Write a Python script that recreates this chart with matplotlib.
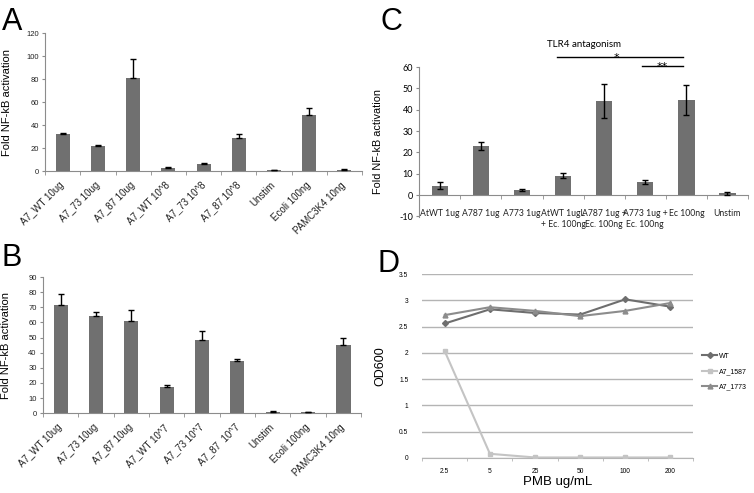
import numpy as np
import matplotlib
matplotlib.use("Agg")
import matplotlib.pyplot as plt
from matplotlib.ticker import FixedLocator, FormatStrFormatter

plt.rcParams['font.family'] = ['Liberation Sans', 'DejaVu Sans']
plt.rcParams['axes.unicode_minus'] = False

# panel A
labels_a = ["A7_WT 10ug", "A7_73 10ug", "A7_87 10ug", "A7_WT 10^8", "A7_73 10^8",
            "A7_87 10^8", "Unstim", "Ecoli 100ng", "PAMC3K4 10ng"]
vals_a = [32, 22, 80.5, 2.5, 6, 29, 0.7, 49, 1.2]
err_a = [1, 0.7, 17, 1, 1, 3.5, 0.2, 6, 0.3]

# panel B
labels_b = ["A7_WT 10ug", "A7_73 10ug", "A7_87 10ug", "A7_WT 10^7", "A7_73 10^7",
            "A7_87  10^7", "Unstim", "Ecoli 100ng", "PAMC3K4 10ng"]
vals_b = [71.5, 64.5, 61, 17, 48.5, 34.5, 1, 0.5, 45]
err_b = [7.5, 2.5, 7.5, 1.5, 5.5, 1.5, 0.3, 0.3, 4.5]

# panel C
labels_c = ["AtWT 1ug", "A787 1ug", "A773 1ug", "AtWT 1ugL\n+ Ec. 100ng",
            "A787 1ug +\nEc. 100ng", "A773 1ug +\nEc. 100ng", "Ec 100ng", "Unstim"]
vals_c = [4.5, 23, 2.5, 9.2, 44, 6, 44.5, 1]
err_c = [1.5, 2, 0.5, 1, 8, 1, 7, 0.7]

# panel D
pmb = ["2.5", "5", "25", "50", "100", "200"]
od_wt = [2.56, 2.83, 2.76, 2.73, 3.02, 2.88]
od_1587 = [2.03, 0.08, 0.01, 0.01, 0.01, 0.01]
od_1773 = [2.72, 2.87, 2.80, 2.70, 2.80, 2.95]

bar_col = "#707070"
spine_col = "#8c8c8c"

fig = plt.figure(figsize=(7.54, 4.93), dpi=100)


def excel_bars(ax, labels, vals, err, ylim, ystep):
    x = np.arange(len(vals))
    ax.bar(x, vals, width=0.4, color=bar_col, zorder=2)
    ax.errorbar(x, vals, yerr=[np.zeros(len(err)), err], fmt="none", ecolor="black",
                elinewidth=1, capsize=2.5, capthick=1, zorder=3)
    ax.set_xlim(-0.5, len(vals) - 0.5)
    ax.set_ylim(*ylim)
    ax.set_yticks(np.arange(ylim[0], ylim[1] + 0.1, ystep))
    ax.set_xticks(x)
    ax.set_xticklabels(labels, rotation=45, ha="right", va="center",
                       rotation_mode="anchor", fontsize=7, color="#222222")
    ax.xaxis.set_minor_locator(FixedLocator(np.arange(-0.5, len(vals), 1)))
    ax.tick_params(axis="x", which="major", length=0, pad=9)
    ax.tick_params(axis="x", which="minor", length=3, color=spine_col)
    ax.tick_params(axis="y", length=2.5, color=spine_col, labelsize=5.5,
                   labelcolor="#222222", pad=2)
    for s in ["top", "right"]:
        ax.spines[s].set_visible(False)
    for s in ["left", "bottom"]:
        ax.spines[s].set_color(spine_col)
    ax.set_ylabel("Fold NF-kB activation", fontsize=8)


axA = fig.add_axes([0.060, 0.653, 0.420, 0.280])
excel_bars(axA, labels_a, vals_a, err_a, (0, 120), 20)
axA.yaxis.set_label_coords(-0.105, 0.5)

axB = fig.add_axes([0.057, 0.162, 0.422, 0.276])
excel_bars(axB, labels_b, vals_b, err_b, (0, 90), 10)
axB.yaxis.set_label_coords(-0.10, 0.5)

# panel C
axC = fig.add_axes([0.556, 0.560, 0.436, 0.304])
xc = np.arange(len(vals_c))
axC.bar(xc, vals_c, width=0.4, color=bar_col, zorder=2)
axC.errorbar(xc, vals_c, yerr=err_c, fmt="none", ecolor="black",
             elinewidth=1, capsize=2.5, capthick=1, zorder=3)
axC.set_xlim(-0.5, len(vals_c) - 0.5)
axC.set_ylim(-10.2, 60)
axC.set_yticks(np.arange(-10, 61, 10))
axC.set_yticklabels([str(v) for v in range(-10, 61, 10)], family="Lato")
axC.spines["bottom"].set_position(("data", 0))
axC.set_xticks(xc)
axC.set_xticklabels(labels_c, fontsize=6.2, family="Lato", va="top",
                    color="#222222", linespacing=1.35)
axC.xaxis.set_minor_locator(FixedLocator(np.arange(-0.5, len(vals_c), 1)))
axC.tick_params(axis="x", which="major", length=0, pad=10)
axC.tick_params(axis="x", which="minor", length=3, color=spine_col)
axC.tick_params(axis="y", length=2.5, color=spine_col, labelsize=6.5, pad=2)
for s in ["top", "right"]:
    axC.spines[s].set_visible(False)
for s in ["left", "bottom"]:
    axC.spines[s].set_color(spine_col)
axC.set_ylabel("Fold NF-kB activation", fontsize=7.8)
axC.yaxis.set_label_coords(-0.11, 0.5)
axC.text(3.5, 70.5, "TLR4 antagonism", ha="center", va="center", fontsize=7,
         family="Lato", clip_on=False)
axC.plot([2.86, 5.92], [64.6, 64.6], color="black", lw=1, clip_on=False)
axC.text(4.29, 62.6, "*", ha="center", va="baseline", fontsize=8, family="DejaVu Sans")
axC.plot([4.93, 5.92], [60.7, 60.7], color="black", lw=1, clip_on=False)
axC.text(5.42, 58.7, "**", ha="center", va="baseline", fontsize=8, family="DejaVu Sans")

# panel D
axD = fig.add_axes([0.560, 0.071, 0.359, 0.373])
xd = np.arange(len(pmb))
axD.plot(xd, od_wt, color="#6e6e6e", marker="D", markersize=3, lw=1.5, label="WT", zorder=3)
axD.plot(xd, od_1587, color="#c4c4c4", marker="s", markersize=3.5, lw=1.5, label="A7_1587", zorder=3)
axD.plot(xd, od_1773, color="#8c8c8c", marker="^", markersize=3.5, lw=1.5, label="A7_1773", zorder=3)
axD.set_xlim(-0.5, len(pmb) - 0.5)
axD.set_ylim(0, 3.5)
axD.set_yticks(np.arange(0, 3.51, 0.5))
axD.yaxis.set_major_formatter(FormatStrFormatter("%g"))
axD.grid(axis="y", color="#b4b4b4", lw=1)
axD.set_axisbelow(True)
axD.set_xticks(xd)
axD.set_xticklabels(pmb)
axD.xaxis.set_minor_locator(FixedLocator(np.arange(-0.5, len(pmb), 1)))
axD.tick_params(axis="x", which="major", length=0, pad=7, labelsize=4.8)
axD.tick_params(axis="x", which="minor", length=2.5, color="#b4b4b4")
axD.tick_params(axis="y", length=0, labelsize=4.8, pad=10)
for s in ["top", "right", "left"]:
    axD.spines[s].set_visible(False)
axD.spines["bottom"].set_color("#b4b4b4")
axD.set_xlabel("PMB ug/mL", fontsize=9.5, labelpad=1)
axD.set_ylabel("OD600", fontsize=9, labelpad=9)
axD.legend(loc="center left", bbox_to_anchor=(1.01, 0.47), frameon=False,
           fontsize=5, handlelength=2.2, handletextpad=0.2, labelspacing=1.2)

# panel letters
fig.text(0.002, 0.985, "A", fontsize=22, va="top")
fig.text(0.002, 0.507, "B", fontsize=22, va="top")
fig.text(0.505, 0.985, "C", fontsize=22, va="top")
fig.text(0.500, 0.495, "D", fontsize=22, va="top")

fig.savefig("out.png", dpi=100)
